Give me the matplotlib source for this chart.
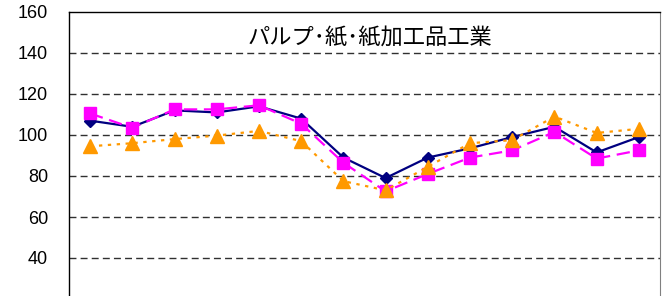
import numpy as np
import matplotlib
matplotlib.use("Agg")
import matplotlib.pyplot as plt

plt.rcParams['font.family'] = ['Liberation Sans', 'Noto Sans CJK JP', 'DejaVu Sans']

# Data (14 periods, index values)
title = "パルプ･紙･紙加工品工業"
periods = list(range(1, 15))
series_navy = [107, 104, 112, 111, 114, 108, 89, 79, 89, 93.5, 99, 104, 91.5, 99]
series_magenta = [110.5, 103.5, 112.5, 112.5, 114.5, 105.5, 86.5, 72.5, 81, 89, 92.5, 101.5, 88.5, 92.5]
series_orange = [94.5, 96, 98, 99.7, 102, 97, 77.5, 73, 84.5, 96, 97.5, 109, 101, 103]
y_ticks = [40, 60, 80, 100, 120, 140, 160]

fig = plt.figure(figsize=(6.62, 2.96), dpi=100)
# axes runs off the bottom of the picture, as in the cropped reference
ax = fig.add_axes([69 / 662, (296 - 340) / 296, 591 / 662, 328 / 296])

x = np.arange(len(periods))

# grid lines
for t in y_ticks[:-1]:
    ax.axhline(t, color='#303030', lw=1.0, dashes=(5, 3), zorder=1)

ax.plot(x, series_navy, color='#000080', lw=1.6, marker='D', ms=6.5,
        markeredgecolor='#000080', zorder=3)
ax.plot(x, series_magenta, color='#FF00FF', lw=1.6, dashes=(6, 3), marker='s', ms=9,
        markeredgecolor='#FF00FF', zorder=4)
ax.plot(x, series_orange, color='#FF9900', lw=1.6, dashes=(1.5, 2.5), marker='^', ms=10.5,
        markeredgecolor='#FF9900', zorder=5)

ax.set_xlim(-0.5, len(periods) - 0.5)
ax.set_ylim(0, 160)
ax.set_yticks(y_ticks)
ax.set_yticklabels([str(t) for t in y_ticks], fontsize=13)
ax.tick_params(axis='y', length=0, pad=15)
ax.set_xticks([])

for s in ['left', 'top']:
    ax.spines[s].set_color('black')
    ax.spines[s].set_linewidth(1.0)
ax.spines['right'].set_color('#808080')
ax.spines['bottom'].set_visible(False)

ax.text(0.51, 0.92, title, transform=ax.transAxes, ha='center', va='center',
        fontsize=16, family=['Noto Sans CJK JP', 'DejaVu Sans'])

fig.savefig('out.png', dpi=100)
